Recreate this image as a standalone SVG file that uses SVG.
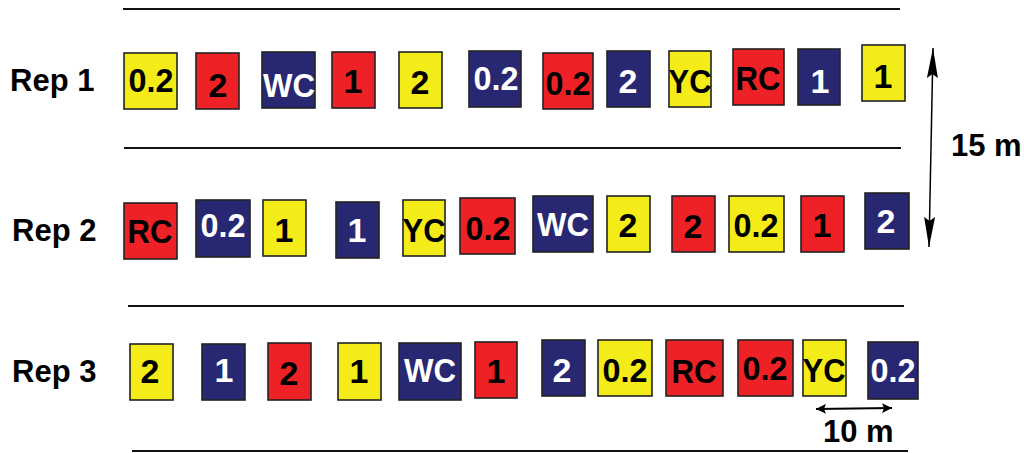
<svg xmlns="http://www.w3.org/2000/svg" width="1024" height="453" viewBox="0 0 1024 453">
<style>
  .y { fill: #f3ec19; }
  .r { fill: #ee2226; }
  .n { fill: #282872; }
  rect { stroke: #222; stroke-width: 1.6; }
  text { font-family: "Liberation Sans", Arial, sans-serif; font-weight: bold; }
  .lb { font-size: 34px; text-anchor: middle; fill: #000; }
  .w { fill: #fff; }
  .rep { font-size: 31px; fill: #000; }
  .dim { font-size: 31px; fill: #000; }
  .rule { stroke: #111; stroke-width: 2; }
</style>
<defs>
  <marker id="bigHead" markerUnits="userSpaceOnUse" markerWidth="30" markerHeight="12" refX="30" refY="6" orient="auto-start-reverse" viewBox="0 0 30 12">
    <path d="M0,0.5 L30,6 L0,11.5 L4,6 z" fill="#000"/>
  </marker>
  <marker id="smallHead" markerUnits="userSpaceOnUse" markerWidth="10" markerHeight="10" refX="10" refY="5" orient="auto-start-reverse" viewBox="0 0 10 10">
    <path d="M0,0 L10,5 L0,10 L2,5 z" fill="#000"/>
  </marker>
</defs>

<g id="rules">
  <line class="rule" x1="123" y1="9" x2="900" y2="9"/>
  <line class="rule" x1="124" y1="148" x2="901" y2="148"/>
  <line class="rule" x1="128" y1="306" x2="904" y2="306"/>
  <line class="rule" x1="132" y1="451" x2="908" y2="451"/>
</g>

<g id="labels">
  <text class="rep" x="10" y="91">Rep 1</text>
  <text class="rep" x="12" y="241">Rep 2</text>
  <text class="rep" x="12" y="382">Rep 3</text>
  <text class="dim" x="951" y="156">15 m</text>
  <text class="dim" x="823" y="442">10 m</text>
</g>

<g id="connectors">
  <line x1="933" y1="48" x2="929" y2="247" stroke="#000" stroke-width="1.5" marker-start="url(#bigHead)" marker-end="url(#bigHead)"/>
  <line x1="816" y1="409" x2="892" y2="408" stroke="#000" stroke-width="2" marker-start="url(#smallHead)" marker-end="url(#smallHead)"/>
</g>

<!-- Rep 1 -->
<g id="r1p1"><rect class="y" x="124" y="53" width="53" height="56"/><text class="lb" x="151" y="92" textLength="45" lengthAdjust="spacingAndGlyphs">0.2</text></g>
<g id="r1p2"><rect class="r" x="196" y="53" width="43" height="56"/><text class="lb" x="218" y="97">2</text></g>
<g id="r1p3"><rect class="n" x="262" y="52" width="53" height="56"/><text class="lb w" x="289" y="97" textLength="52" lengthAdjust="spacingAndGlyphs">WC</text></g>
<g id="r1p4"><rect class="r" x="332" y="52" width="43" height="56"/><text class="lb" x="353" y="93">1</text></g>
<g id="r1p5"><rect class="y" x="399" y="52" width="43" height="56"/><text class="lb" x="420" y="94">2</text></g>
<g id="r1p6"><rect class="n" x="469" y="51" width="52" height="56"/><text class="lb w" x="496" y="90" textLength="45" lengthAdjust="spacingAndGlyphs">0.2</text></g>
<g id="r1p7"><rect class="r" x="543" y="53" width="50" height="56"/><text class="lb" x="568" y="95" textLength="45" lengthAdjust="spacingAndGlyphs">0.2</text></g>
<g id="r1p8"><rect class="n" x="607" y="51" width="43" height="56"/><text class="lb w" x="628" y="93">2</text></g>
<g id="r1p9"><rect class="y" x="669" y="51" width="42" height="56"/><text class="lb" x="690" y="93" textLength="43" lengthAdjust="spacingAndGlyphs">YC</text></g>
<g id="r1p10"><rect class="r" x="733" y="49" width="51" height="56"/><text class="lb" x="758" y="90" textLength="45" lengthAdjust="spacingAndGlyphs">RC</text></g>
<g id="r1p11"><rect class="n" x="798" y="49" width="42" height="56"/><text class="lb w" x="820" y="93">1</text></g>
<g id="r1p12"><rect class="y" x="862" y="45" width="43" height="56"/><text class="lb" x="883" y="88">1</text></g>

<!-- Rep 2 -->
<g id="r2p1"><rect class="r" x="124" y="203" width="53" height="56"/><text class="lb" x="150" y="243" textLength="45" lengthAdjust="spacingAndGlyphs">RC</text></g>
<g id="r2p2"><rect class="n" x="196" y="200" width="54" height="57"/><text class="lb w" x="223" y="237" textLength="45" lengthAdjust="spacingAndGlyphs">0.2</text></g>
<g id="r2p3"><rect class="y" x="263" y="200" width="43" height="56"/><text class="lb" x="284" y="242">1</text></g>
<g id="r2p4"><rect class="n" x="336" y="202" width="43" height="56"/><text class="lb w" x="357" y="242">1</text></g>
<g id="r2p5"><rect class="y" x="403" y="200" width="42" height="56"/><text class="lb" x="424" y="242" textLength="43" lengthAdjust="spacingAndGlyphs">YC</text></g>
<g id="r2p6"><rect class="r" x="460" y="198" width="55" height="56"/><text class="lb" x="488" y="240" textLength="45" lengthAdjust="spacingAndGlyphs">0.2</text></g>
<g id="r2p7"><rect class="n" x="533" y="196" width="60" height="56"/><text class="lb w" x="563" y="236" textLength="52" lengthAdjust="spacingAndGlyphs">WC</text></g>
<g id="r2p8"><rect class="y" x="607" y="196" width="43" height="56"/><text class="lb" x="628" y="237">2</text></g>
<g id="r2p9"><rect class="r" x="672" y="196" width="43" height="56"/><text class="lb" x="693" y="238">2</text></g>
<g id="r2p10"><rect class="y" x="729" y="196" width="55" height="56"/><text class="lb" x="756" y="237" textLength="45" lengthAdjust="spacingAndGlyphs">0.2</text></g>
<g id="r2p11"><rect class="r" x="801" y="196" width="43" height="56"/><text class="lb" x="822" y="237">1</text></g>
<g id="r2p12"><rect class="n" x="865" y="193" width="44" height="56"/><text class="lb w" x="886" y="233">2</text></g>

<!-- Rep 3 -->
<g id="r3p1"><rect class="y" x="130" y="344" width="43" height="56"/><text class="lb" x="150" y="383">2</text></g>
<g id="r3p2"><rect class="n" x="202" y="344" width="43" height="56"/><text class="lb w" x="224" y="382">1</text></g>
<g id="r3p3"><rect class="r" x="268" y="343" width="43" height="57"/><text class="lb" x="289" y="385">2</text></g>
<g id="r3p4"><rect class="y" x="338" y="343" width="43" height="57"/><text class="lb" x="359" y="383">1</text></g>
<g id="r3p5"><rect class="n" x="399" y="343" width="62" height="57"/><text class="lb w" x="430" y="382" textLength="52" lengthAdjust="spacingAndGlyphs">WC</text></g>
<g id="r3p6"><rect class="r" x="475" y="342" width="42" height="56"/><text class="lb" x="496" y="383">1</text></g>
<g id="r3p7"><rect class="n" x="542" y="340" width="43" height="56"/><text class="lb w" x="562" y="382">2</text></g>
<g id="r3p8"><rect class="y" x="598" y="340" width="54" height="56"/><text class="lb" x="625" y="382" textLength="45" lengthAdjust="spacingAndGlyphs">0.2</text></g>
<g id="r3p9"><rect class="r" x="666" y="340" width="57" height="56"/><text class="lb" x="694" y="383" textLength="45" lengthAdjust="spacingAndGlyphs">RC</text></g>
<g id="r3p10"><rect class="r" x="738" y="340" width="55" height="56"/><text class="lb" x="765" y="380" textLength="45" lengthAdjust="spacingAndGlyphs">0.2</text></g>
<g id="r3p11"><rect class="y" x="803" y="340" width="43" height="56"/><text class="lb" x="824" y="382" textLength="43" lengthAdjust="spacingAndGlyphs">YC</text></g>
<g id="r3p12"><rect class="n" x="868" y="342" width="50" height="57"/><text class="lb w" x="893" y="382" textLength="45" lengthAdjust="spacingAndGlyphs">0.2</text></g>
</svg>
